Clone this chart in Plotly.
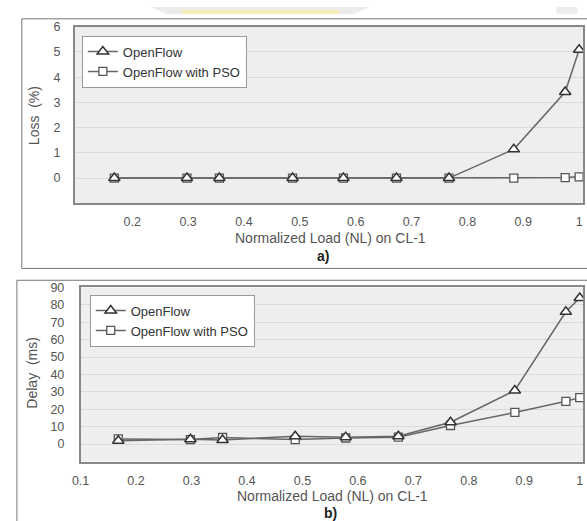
import plotly.graph_objects as go

W, H = 587, 521

# ---- data ----
nl = [0.168, 0.298, 0.356, 0.487, 0.578, 0.673, 0.767, 0.883, 0.975, 1.0]
loss_openflow = [0, 0, 0, 0, 0, 0, 0, 1.14, 3.41, 5.09]
loss_pso = [0, 0, 0, 0, 0, 0, 0, 0, 0.02, 0.05]
delay_openflow = [1.9, 2.8, 2.4, 4.5, 4.0, 4.5, 12.6, 30.8, 76, 84]
delay_pso = [3.0, 2.6, 3.8, 2.6, 3.5, 4.0, 10.7, 18.2, 24.6, 26.7]

loss_ticks = [0, 1, 2, 3, 4, 5, 6]
delay_ticks = [0, 10, 20, 30, 40, 50, 60, 70, 80, 90]
x_ticks_top = [0.2, 0.3, 0.4, 0.5, 0.6, 0.7, 0.8, 0.9, 1.0]
x_ticks_bot = [0.1, 0.2, 0.3, 0.4, 0.5, 0.6, 0.7, 0.8, 0.9, 1.0]
x_labels_top = ["0.2", "0.3", "0.4", "0.5", "0.6", "0.7", "0.8", "0.9", "1"]
x_labels_bot = ["0.1", "0.2", "0.3", "0.4", "0.5", "0.6", "0.7", "0.8", "0.9", "1"]


def px(x):
    return x / W


def py(y):
    return 1 - y / H


FONT = "Liberation Sans, Arial, Helvetica, sans-serif"
LINE = "#666666"

fig = go.Figure()

tri = dict(symbol="triangle-up", size=10, color="white", line=dict(color="#333333", width=1.5))
sq = dict(symbol="square", size=8, color="white", line=dict(color="#555555", width=1.3))

# top panel
fig.add_trace(go.Scatter(x=nl, y=loss_pso, mode="lines+markers", name="OpenFlow with PSO",
                         line=dict(color=LINE, width=1.5), marker=sq, xaxis="x", yaxis="y",
                         legend="legend", legendrank=2))
fig.add_trace(go.Scatter(x=nl, y=loss_openflow, mode="lines+markers", name="OpenFlow",
                         line=dict(color=LINE, width=1.5), marker=tri, xaxis="x", yaxis="y",
                         legend="legend", legendrank=1))
# bottom panel
fig.add_trace(go.Scatter(x=nl, y=delay_pso, mode="lines+markers", name="OpenFlow with PSO",
                         line=dict(color=LINE, width=1.5), marker=sq, xaxis="x2", yaxis="y2",
                         legend="legend2", legendrank=2))
fig.add_trace(go.Scatter(x=nl, y=delay_openflow, mode="lines+markers", name="OpenFlow",
                         line=dict(color=LINE, width=1.5), marker=tri, xaxis="x2", yaxis="y2",
                         legend="legend2", legendrank=1))

axis_common = dict(showline=True, linecolor="#888888", linewidth=1.5, mirror=True,
                   tickfont=dict(family=FONT, size=12.5, color="#555555"),
                   ticks="outside", tickcolor="rgba(0,0,0,0)", zeroline=False)

legend_common = dict(bgcolor="white", bordercolor="#999999", borderwidth=1,
                     font=dict(family=FONT, size=13, color="#333333"),
                     xanchor="left", yanchor="top", tracegroupgap=0, itemwidth=30)

fig.update_layout(
    width=W, height=H,
    margin=dict(l=0, r=0, t=0, b=0),
    paper_bgcolor="white",
    plot_bgcolor="#eeeeee",
    xaxis=dict(domain=[px(66.7), px(583)], anchor="y", range=[0.097, 1.007],
               tickvals=x_ticks_top, ticktext=x_labels_top, showgrid=False, ticklen=6, **axis_common),
    yaxis=dict(domain=[py(199), py(20)], anchor="x", range=[-1, 6], tickvals=loss_ticks,
               showgrid=True, gridcolor="#dadada", gridwidth=1, ticklen=10, **axis_common),
    xaxis2=dict(domain=[px(72.7), px(583)], anchor="y2", range=[0.1, 1.006],
                tickvals=x_ticks_bot, ticktext=x_labels_bot, showgrid=False, ticklen=7, **axis_common),
    yaxis2=dict(domain=[py(460.7), py(284.3)], anchor="x2", range=[-10, 90], tickvals=delay_ticks,
                showgrid=True, gridcolor="#dadada", gridwidth=1, ticklen=12, **axis_common),
    legend=dict(x=px(74), y=py(29), **legend_common),
    legend2=dict(x=px(82), y=py(291.5), **legend_common),
    showlegend=True,
)

# outer frames and faint watermark
shapes = [
    dict(type="path", xref="paper", yref="paper",
         path=f"M {px(143)} {py(0)} L {px(367)} {py(0)} L {px(350)} {py(7)} L {px(160)} {py(7)} Z",
         fillcolor="rgba(200,200,200,0.35)", line=dict(width=0), layer="below"),
    dict(type="path", xref="paper", yref="paper",
         path=f"M {px(173)} {py(3)} L {px(337)} {py(3)} L {px(333)} {py(7)} L {px(177)} {py(7)} Z",
         fillcolor="rgba(255,240,150,0.6)", line=dict(width=0), layer="below"),
    dict(type="rect", xref="paper", yref="paper", x0=px(556), x1=px(577), y0=py(7), y1=py(0),
         fillcolor="rgba(200,200,200,0.35)", line=dict(width=0), layer="below"),
    dict(type="rect", xref="paper", yref="paper", x0=px(13), x1=px(600), y0=py(265), y1=py(12),
         line=dict(color="#777777", width=1), fillcolor="rgba(0,0,0,0)", layer="below"),
    dict(type="rect", xref="paper", yref="paper", x0=px(8), x1=px(600), y0=py(540), y1=py(277),
         line=dict(color="#777777", width=1), fillcolor="rgba(0,0,0,0)", layer="below"),
]
fig.update_layout(shapes=shapes)

ann_font = dict(family=FONT, size=14, color="#555555")
annotations = [
    dict(text="Loss\u00a0 (%)", x=px(25), y=py(110), textangle=-90, font=ann_font),
    dict(text="Delay\u00a0 (ms)", x=px(23), y=py(371), textangle=-90, font=ann_font),
    dict(text="Normalized Load (NL) on CL-1", x=px(326), y=py(234), font=ann_font),
    dict(text="Normalized Load (NL) on CL-1", x=px(329), y=py(496), font=ann_font),
    dict(text="<b>a)</b>", x=px(319), y=py(252), font=dict(family=FONT, size=14, color="#222222")),
    dict(text="<b>b)</b>", x=px(327), y=py(513), font=dict(family=FONT, size=14, color="#222222")),
]
for a in annotations:
    a.update(xref="paper", yref="paper", showarrow=False, xanchor="center", yanchor="middle")
fig.update_layout(annotations=annotations)

fig.write_html(
    "out.html",
    config={"displayModeBar": False},
    post_script="document.body.style.margin='0';document.body.style.overflow='hidden';",
)
